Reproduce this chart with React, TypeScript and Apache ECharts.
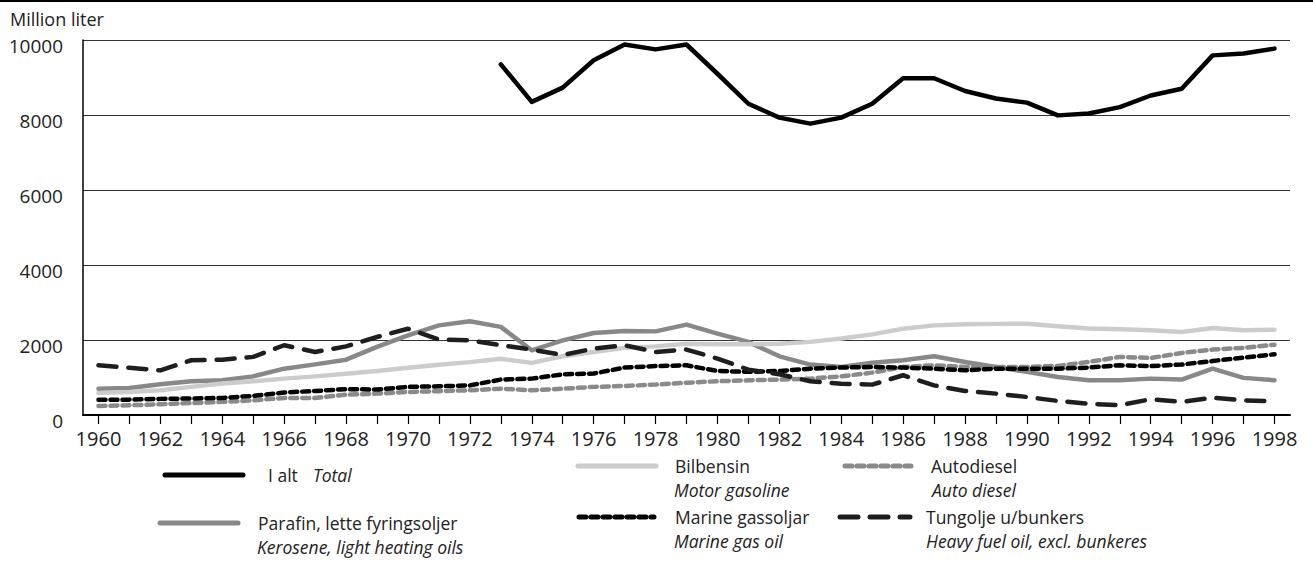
import React, { useEffect, useRef } from "react";
import * as echarts from "echarts";

const years = Array.from({ length: 39 }, (_, i) => String(1960 + i));
const yTicks = [0, 2000, 4000, 6000, 8000, 10000];

const total = [null, null, null, null, null, null, null, null, null, null, null, null, null,
  9350, 8350, 8730, 9460, 9880, 9750, 9880, 9100, 8300, 7930, 7770, 7930, 8300,
  8980, 8980, 8640, 8440, 8330, 7990, 8040, 8210, 8520, 8700, 9590, 9640, 9770];
const bilbensin = [590, 615, 660, 750, 840, 900, 970, 1030, 1100, 1175, 1260, 1340,
  1410, 1500, 1390, 1565, 1680, 1790, 1830, 1900, 1885, 1885, 1900, 1950, 2040, 2150,
  2300, 2390, 2420, 2430, 2435, 2365, 2305, 2285, 2260, 2215, 2320, 2260, 2275];
const autodiesel = [240, 260, 285, 320, 350, 390, 455, 455, 540, 570, 615, 635,
  660, 700, 660, 700, 750, 775, 810, 860, 900, 925, 945, 970, 1030, 1130,
  1280, 1325, 1280, 1280, 1280, 1310, 1415, 1550, 1520, 1655, 1745, 1790, 1875];
const parafin = [700, 720, 820, 900, 925, 1030, 1235, 1350, 1475, 1815, 2125, 2390,
  2500, 2350, 1725, 1990, 2185, 2240, 2230, 2410, 2170, 1950, 1565, 1345, 1280, 1395,
  1460, 1565, 1415, 1280, 1150, 1015, 925, 925, 970, 945, 1235, 990, 925];
const marine = [410, 410, 430, 440, 455, 510, 600, 640, 690, 680, 750, 765,
  790, 945, 970, 1085, 1105, 1265, 1305, 1325, 1175, 1150, 1175, 1235, 1265, 1280,
  1265, 1235, 1190, 1235, 1235, 1235, 1265, 1325, 1305, 1345, 1440, 1530, 1620];
const tungolje = [1325, 1260, 1190, 1460, 1475, 1550, 1860, 1680, 1830, 2080, 2300, 2010,
  1990, 1860, 1745, 1600, 1770, 1860, 1680, 1745, 1505, 1210, 1085, 900, 835, 810,
  1060, 790, 640, 570, 480, 375, 300, 260, 420, 350, 460, 390, 365];

const FONT = "'Open Sans', 'Noto Sans', sans-serif";
const TXT = "#222";
const LEG = 17.5;

type Style = { color: string; width: number; dash: number[] | "solid" };
const styles: Record<string, Style> = {
  total: { color: "#000000", width: 4.5, dash: "solid" },
  bilbensin: { color: "#cccccc", width: 4.5, dash: "solid" },
  autodiesel: { color: "#8a8a8a", width: 4.5, dash: [7, 5] },
  parafin: { color: "#888888", width: 4.5, dash: "solid" },
  marine: { color: "#000000", width: 4.5, dash: [7, 5] },
  tungolje: { color: "#1e1e1e", width: 4.5, dash: [18, 12] },
};

function mkSeries(name: string, data: (number | null)[], key: string, z: number) {
  const s = styles[key];
  return {
    name,
    type: "line",
    data,
    symbol: "none",
    z,
    lineStyle: { color: s.color, width: s.width, type: s.dash, cap: "round", join: "round" },
    connectNulls: false,
  };
}

function legendItem(x1: number, x2: number, y: number, key: string, lines: { t: string; it: boolean; x: number; y: number }[]) {
  const s = styles[key];
  const els: any[] = [
    {
      type: "line",
      shape: { x1, y1: y, x2, y2: y },
      style: {
        stroke: s.color,
        lineWidth: 5,
        lineCap: "round",
        lineDash: s.dash === "solid" ? null : s.dash,
      },
    },
  ];
  for (const l of lines) {
    els.push({
      type: "text",
      x: l.x,
      y: l.y,
      style: {
        text: l.t,
        fill: TXT,
        font: `${l.it ? "italic " : ""}${LEG}px ${FONT}`,
        verticalAlign: "middle",
        textAlign: "left",
      },
    });
  }
  return els;
}

export default function App() {
  const ref = useRef<HTMLDivElement>(null);
  useEffect(() => {
    document.body.style.margin = "0";
    const chart = echarts.init(ref.current!, null, { renderer: "svg" });
    const graphic: any[] = [
      { type: "line", shape: { x1: 0, y1: 1, x2: 1313, y2: 1 }, style: { stroke: "#000", lineWidth: 2 } },
      {
        type: "text",
        x: 10,
        y: 19,
        style: { text: "Million liter", fill: TXT, font: `18px ${FONT}`, verticalAlign: "middle" },
      },
      ...legendItem(165, 243, 475, "total", [
        { t: "I alt", it: false, x: 268, y: 475 },
        { t: "Total", it: true, x: 313, y: 475 },
      ]),
      ...legendItem(578, 656, 466, "bilbensin", [
        { t: "Bilbensin", it: false, x: 675, y: 466 },
        { t: "Motor gasoline", it: true, x: 674, y: 490 },
      ]),
      ...legendItem(845, 911, 466, "autodiesel", [
        { t: "Autodiesel", it: false, x: 931, y: 466 },
        { t: "Auto diesel", it: true, x: 932, y: 490 },
      ]),
      ...legendItem(160, 238, 523, "parafin", [
        { t: "Parafin, lette fyringsoljer", it: false, x: 258, y: 523 },
        { t: "Kerosene, light heating oils", it: true, x: 257, y: 547 },
      ]),
      ...legendItem(579, 654, 517, "marine", [
        { t: "Marine gassoljar", it: false, x: 675, y: 517 },
        { t: "Marine gas oil", it: true, x: 674, y: 541 },
      ]),
      ...legendItem(840, 910, 517, "tungolje", [
        { t: "Tungolje u/bunkers", it: false, x: 926, y: 517 },
        { t: "Heavy fuel oil, excl. bunkeres", it: true, x: 926, y: 541 },
      ]),
    ];
    chart.setOption({
      animation: false,
      backgroundColor: "#ffffff",
      textStyle: { fontFamily: FONT },
      grid: { left: 83, right: 23, top: 40, bottom: 155, containLabel: false },
      xAxis: {
        type: "category",
        data: years,
        boundaryGap: true,
        axisLine: { show: true, lineStyle: { color: "#000", width: 2 } },
        axisTick: { show: true, alignWithLabel: true, interval: 0, length: 9, lineStyle: { color: "#000", width: 1.2 } },
        axisLabel: { interval: 1, color: TXT, fontSize: 20, fontFamily: FONT, margin: 13 },
        splitLine: { show: false },
      },
      yAxis: {
        type: "value",
        min: yTicks[0],
        max: yTicks[yTicks.length - 1],
        interval: 2000,
        axisLine: { show: true, lineStyle: { color: "#000", width: 1.5 } },
        axisTick: { show: false },
        axisLabel: {
          color: TXT,
          fontSize: 19,
          fontFamily: FONT,
          margin: 20,
          verticalAlign: "top",
          lineHeight: 12,
          formatter: (v: number) => String(v),
        },
        splitLine: { show: true, lineStyle: { color: "#333", width: 1.2 } },
      },
      graphic,
      series: [
        mkSeries("Parafin, lette fyringsoljer", parafin, "parafin", 2),
        mkSeries("Bilbensin", bilbensin, "bilbensin", 3),
        mkSeries("Autodiesel", autodiesel, "autodiesel", 4),
        mkSeries("Marine gassoljar", marine, "marine", 5),
        mkSeries("Tungolje u/bunkers", tungolje, "tungolje", 6),
        mkSeries("I alt", total, "total", 7),
      ],
    });
    return () => chart.dispose();
  }, []);
  return <div ref={ref} style={{ width: 1313, height: 570 }} />;
}
